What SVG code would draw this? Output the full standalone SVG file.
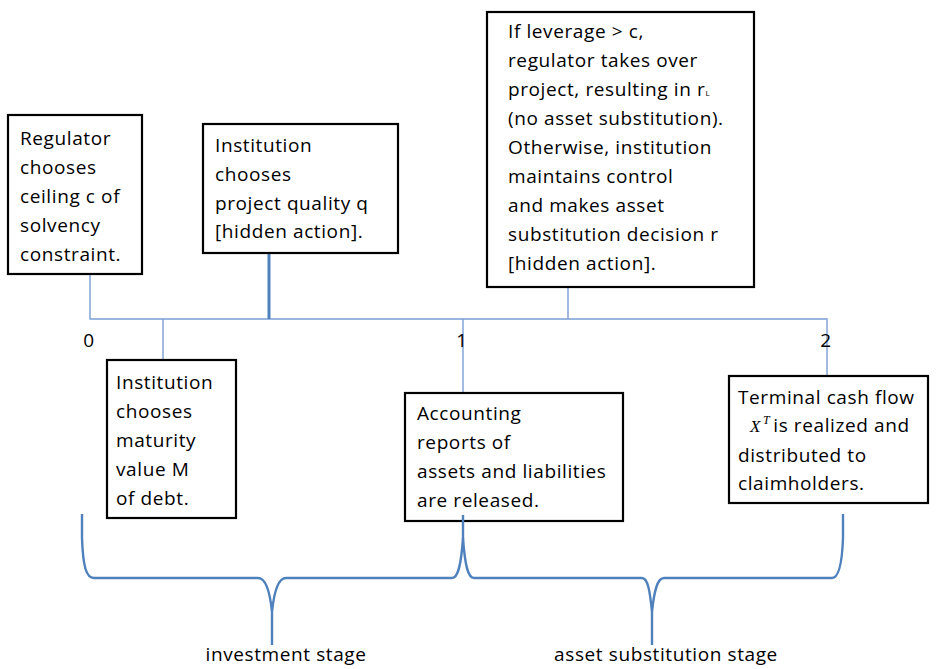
<svg xmlns="http://www.w3.org/2000/svg" width="936" height="669" viewBox="0 0 936 669">
<style>
.box{fill:#fff;stroke:#000;stroke-width:2.2}
.t{font-family:"Open Sans","Liberation Sans",sans-serif;font-size:19px;letter-spacing:0.6px;fill:#000}
.c{fill:none;stroke:#7A9FD4;stroke-width:1.4}
.ck{fill:none;stroke:#4F81BD;stroke-width:3}
.br{fill:none;stroke:#4F81BD;stroke-width:2.4;stroke-linejoin:round}
.m{text-anchor:middle}
</style>
<rect width="936" height="669" fill="#fff"/>
<g id="connectors">
<path class="c" d="M90,274 V319 H827 V376"/>
<path class="c" d="M163,319 V360"/>
<path class="ck" d="M269,253 V319"/>
<path class="c" d="M568,287 V319"/>
<path class="c" d="M463,319 V393"/>
</g>
<g id="labels">
<text class="t m" x="89" y="347">0</text>
<text class="t m" x="462" y="347">1</text>
<text class="t m" x="826" y="347">2</text>
</g>
<g id="n-regulator">
<rect class="box" x="8" y="115" width="134" height="159"/>
<text class="t" x="20" y="145">Regulator</text>
<text class="t" x="20" y="174">chooses</text>
<text class="t" x="20" y="203">ceiling c of</text>
<text class="t" x="20" y="232">solvency</text>
<text class="t" x="20" y="261">constraint.</text>
</g>
<g id="n-quality">
<rect class="box" x="203" y="124" width="195" height="129"/>
<text class="t" x="215" y="152">Institution</text>
<text class="t" x="215" y="181">chooses</text>
<text class="t" x="215" y="210">project quality q</text>
<text class="t" x="215" y="238">[hidden action].</text>
</g>
<g id="n-leverage">
<rect class="box" x="487" y="12" width="267" height="275"/>
<text class="t" x="508" y="38">If leverage &gt; c,</text>
<text class="t" x="508" y="67">regulator takes over</text>
<text class="t" x="508" y="96">project, resulting in r<tspan font-size="8">L</tspan></text>
<text class="t" x="508" y="125">(no asset substitution).</text>
<text class="t" x="508" y="154">Otherwise, institution</text>
<text class="t" x="508" y="183">maintains control</text>
<text class="t" x="508" y="212">and makes asset</text>
<text class="t" x="508" y="241">substitution decision r</text>
<text class="t" x="508" y="270">[hidden action].</text>
</g>
<g id="n-maturity">
<rect class="box" x="107" y="360" width="129" height="158"/>
<text class="t" x="116" y="389">Institution</text>
<text class="t" x="116" y="418">chooses</text>
<text class="t" x="116" y="447">maturity</text>
<text class="t" x="116" y="476">value M</text>
<text class="t" x="116" y="505">of debt.</text>
</g>
<g id="n-accounting">
<rect class="box" x="405" y="393" width="218" height="128"/>
<text class="t" x="417" y="420">Accounting</text>
<text class="t" x="417" y="449">reports of</text>
<text class="t" x="417" y="478">assets and liabilities</text>
<text class="t" x="417" y="507">are released.</text>
</g>
<g id="n-terminal">
<rect class="box" x="729" y="376" width="199" height="127"/>
<text class="t" x="738" y="404">Terminal cash flow</text>
<text class="t" x="750" y="432"><tspan font-family="Liberation Serif" font-style="italic" font-size="17">X</tspan><tspan font-family="Liberation Serif" font-style="italic" font-size="12" dy="-8" dx="2">T</tspan><tspan dy="8" dx="3">is realized and</tspan></text>
<text class="t" x="738" y="462">distributed to</text>
<text class="t" x="738" y="490">claimholders.</text>
</g>
<g id="braces">
<path class="br" d="M82,514 V538 C83,566 86,578 94,578 H258 C266,578 270,592 272,612 V645 M272,612 C274,592 278,578 286,578 H452 C458,578 461,566 463,538 V515"/>
<path class="br" d="M463,538 C465,566 468,578 474,578 H642 C648,578 650,592 652,612 V645 M652,612 C654,592 657,578 664,578 H832 C838,578 842,566 843,538 V514"/>
<text class="t m" x="286" y="661">investment stage</text>
<text class="t m" x="666" y="661">asset substitution stage</text>
</g>
</svg>
